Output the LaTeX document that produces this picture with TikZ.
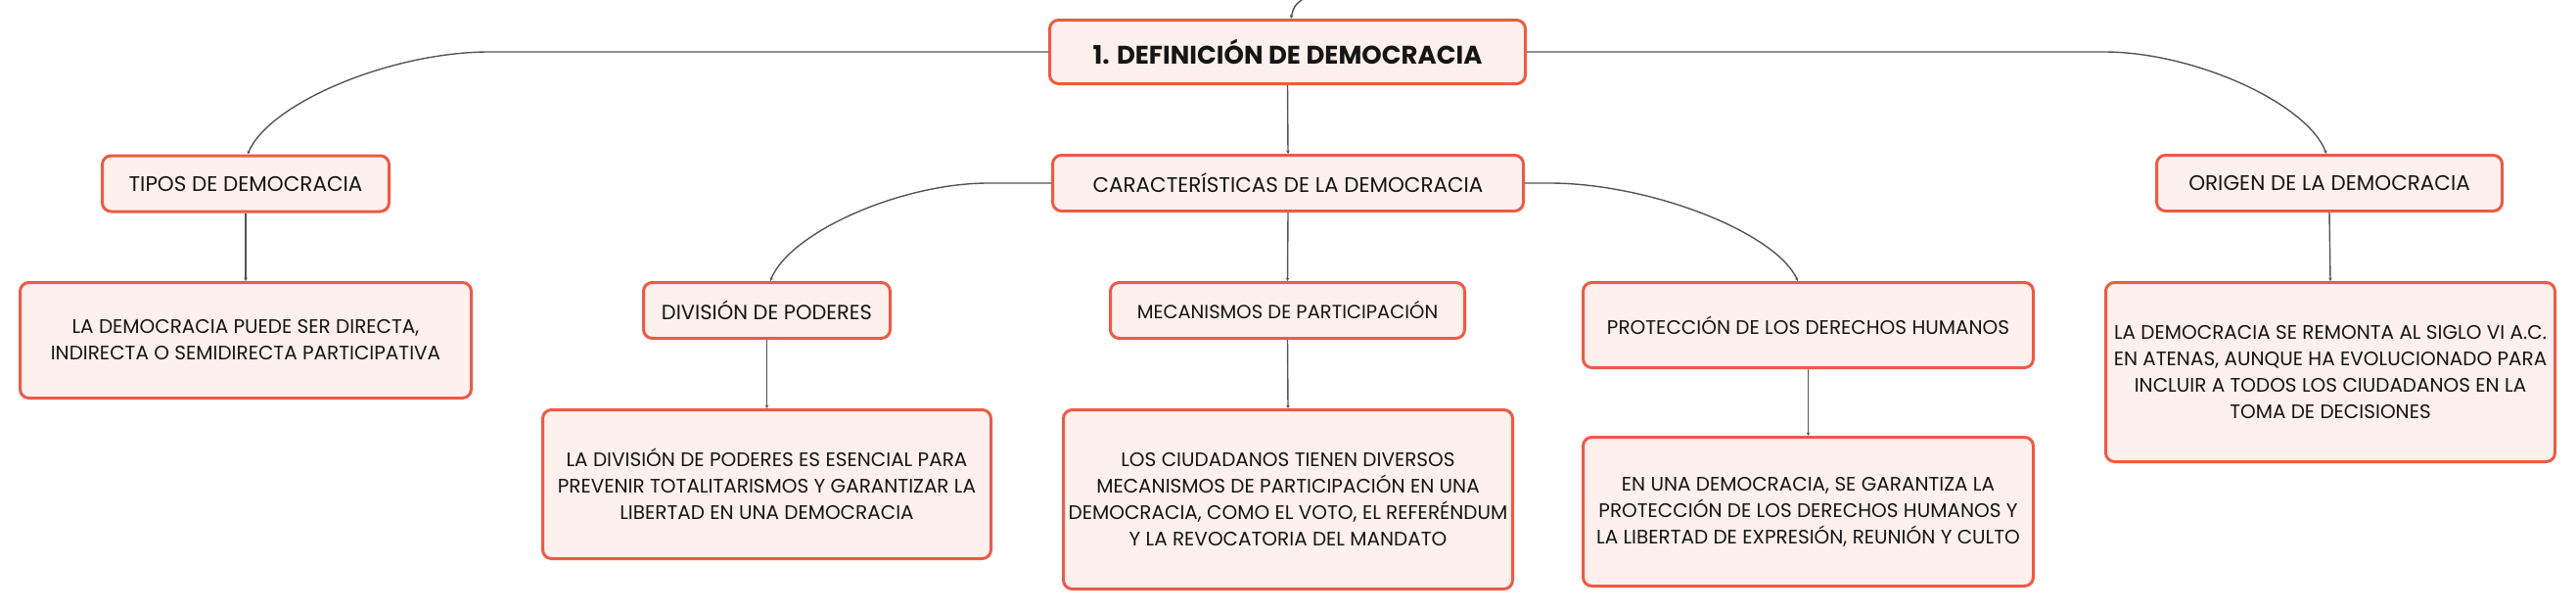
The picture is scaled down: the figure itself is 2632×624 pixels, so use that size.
\documentclass[tikz,border=0pt]{standalone}
\usepackage{fontspec}
\setmainfont{Poppins}
\usetikzlibrary{arrows.meta}
\definecolor{boxline}{HTML}{EC5B46}
\definecolor{boxfill}{HTML}{FEF0EC}
\definecolor{connc}{HTML}{555555}
\definecolor{txt}{HTML}{151515}
\begin{document}
\begin{tikzpicture}[x=1pt,y=-1pt,
  box/.style={draw=boxline, fill=boxfill, line width=3pt, rounded corners=9pt, inner sep=0pt, align=center, text=txt},
  lbl/.style={box, font=\fontsize{21.5}{26}\selectfont},
  desc/.style={box, font=\fontsize{20}{27}\selectfont},
  link/.style={draw=connc, line width=1.4pt, -{Stealth[length=3.5pt,width=3.5pt]}},
]
\useasboundingbox (0,0) rectangle (2632,624);
\fill[white] (0,0) rectangle (2632,624);

\node[box, font=\bfseries\fontsize{26}{30}\selectfont, minimum width=486pt, minimum height=65pt] (root) at (1315.5,53) {1. DEFINICIÓN DE DEMOCRACIA};

\node[lbl, minimum width=293pt, minimum height=57pt] (tipos) at (251,187.5) {TIPOS DE DEMOCRACIA};
\node[lbl, minimum width=481pt, minimum height=57pt] (carac) at (1316,187) {CARACTERÍSTICAS DE LA DEMOCRACIA};
\node[lbl, minimum width=353pt, minimum height=57pt] (origen) at (2380,187) {ORIGEN DE LA DEMOCRACIA};

\node[desc, minimum width=461pt, minimum height=118pt] (dtipos) at (251,347.5) {LA DEMOCRACIA PUEDE SER DIRECTA,\\INDIRECTA O SEMIDIRECTA PARTICIPATIVA};

\node[lbl, font=\fontsize{21}{26}\selectfont, minimum width=252pt, minimum height=57pt] (division) at (783.5,317) {DIVISIÓN DE PODERES};
\node[lbl, font=\fontsize{19.5}{26}\selectfont, minimum width=362pt, minimum height=57pt] (mecan) at (1315.5,317) {MECANISMOS DE PARTICIPACIÓN};
\node[lbl, font=\fontsize{20}{26}\selectfont, minimum width=460pt, minimum height=87pt] (protec) at (1847.5,332) {PROTECCIÓN DE LOS DERECHOS HUMANOS};

\node[desc, minimum width=458pt, minimum height=152pt] (ddiv) at (783.5,494.5) {LA DIVISIÓN DE PODERES ES ESENCIAL PARA\\PREVENIR TOTALITARISMOS Y GARANTIZAR LA\\LIBERTAD EN UNA DEMOCRACIA};
\node[desc, minimum width=459pt, minimum height=183pt] (dmec) at (1316,510) {LOS CIUDADANOS TIENEN DIVERSOS\\MECANISMOS DE PARTICIPACIÓN EN UNA\\DEMOCRACIA, COMO EL VOTO, EL REFERÉNDUM\\Y LA REVOCATORIA DEL MANDATO};
\node[desc, minimum width=460pt, minimum height=152pt] (dprot) at (1847.5,522.5) {EN UNA DEMOCRACIA, SE GARANTIZA LA\\PROTECCIÓN DE LOS DERECHOS HUMANOS Y\\LA LIBERTAD DE EXPRESIÓN, REUNIÓN Y CULTO};
\node[desc, minimum width=459pt, minimum height=183pt] (dorig) at (2381,380) {LA DEMOCRACIA SE REMONTA AL SIGLO VI A.C.\\EN ATENAS, AUNQUE HA EVOLUCIONADO PARA\\INCLUIR A TODOS LOS CIUDADANOS EN LA\\TOMA DE DECISIONES};

% incoming link from off-canvas parent
\coordinate (topend) at (1335,-4);
\draw[link] (topend) .. controls (1322,6) .. ([xshift=3.5pt]root.north);

% curved links
\draw[link] (root.west) -- (500,53) .. controls (400,53) and (275,105) .. ([xshift=2pt]tipos.north);
\draw[link] (root.east) -- (2150,53) .. controls (2241,53) and (2357,105) .. ([xshift=-3pt]origen.north);
\draw[link] (carac.west) -- (1010,187) .. controls (921,187) and (807,237) .. ([xshift=3.5pt]division.north);
\draw[link] (carac.east) -- (1583,187) .. controls (1685,187) and (1814,237) .. ([xshift=-10.5pt]protec.north);

% straight links
\draw[link] (root.south) -- (carac.north);
\draw[link] (carac.south) -- (mecan.north);
\draw[link] (tipos.south) -- (dtipos.north);
\draw[link] (division.south) -- (ddiv.north);
\draw[link] (mecan.south) -- (dmec.north);
\draw[link] (protec.south) -- (dprot.north);
\draw[link] (origen.south) -- (dorig.north);
\end{tikzpicture}
\end{document}
